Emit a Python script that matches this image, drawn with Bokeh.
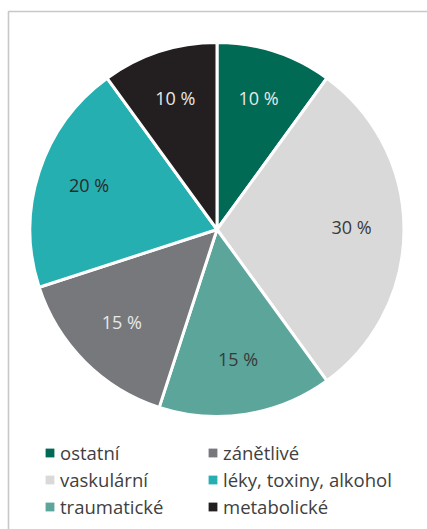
import math
from bokeh.plotting import figure
from bokeh.models import ColumnDataSource, Range1d, BoxAnnotation, Legend, LegendItem
from bokeh.core.properties import value
from bokeh.embed import file_html
from bokeh.resources import INLINE

categories = ["ostatní", "vaskulární", "traumatické", "zánětlivé", "léky, toxiny, alkohol", "metabolické"]
shares = [10, 30, 15, 15, 20, 10]
labels = ["10 %", "30 %", "15 %", "15 %", "20 %", "10 %"]
colors = ["#006A55", "#D9D9DA", "#5BA59A", "#77787B", "#25AFB0", "#231F20"]
label_colors = ["#E8E8E8", "#3A3A3A", "#3A3A3A", "#E8E8E8", "#2A2A2A", "#E8E8E8"]

W, H = 427, 529
cx, cy, R = 216.5, H - 229, 187

total = sum(shares)
starts, ends, lx, ly = [], [], [], []
cum = 0
for s in shares:
    a0 = math.pi / 2 - 2 * math.pi * cum / total
    cum += s
    a1 = math.pi / 2 - 2 * math.pi * cum / total
    starts.append(a0)
    ends.append(a1)
    mid = (a0 + a1) / 2
    lx.append(cx + 0.72 * R * math.cos(mid))
    ly.append(cy + 0.72 * R * math.sin(mid) + 3)

src = ColumnDataSource(dict(cat=categories, share=shares, start=starts, end=ends,
                            color=colors, lx=lx, ly=ly, lab=labels, lc=label_colors))

p = figure(width=W, height=H, output_backend="svg", toolbar_location=None,
           x_range=Range1d(0, W), y_range=Range1d(0, H), min_border=0)
p.axis.visible = False
p.grid.visible = False
p.outline_line_color = None
p.background_fill_color = "white"

frame = BoxAnnotation(left=8, right=W + 20, top=H - 11, bottom=-20,
                      fill_alpha=0, line_color="#4a4a4a", line_width=1.6)
p.add_layout(frame)

r = p.wedge(x=cx, y=cy, radius=R, start_angle="start", end_angle="end", direction="clock",
            fill_color="color", line_color="white", line_width=3, source=src)

# legend swatches (not drawn in the plot area)
sw = p.rect(x=float("nan"), y=float("nan"), width=1, height=1, fill_color="color",
            line_color=None, source=src)

p.text(x="lx", y="ly", text="lab", text_color="lc", text_align="center",
       text_baseline="middle", text_font=value("Open Sans"), text_font_size="18px", source=src)

items = [LegendItem(label=c, renderers=[sw], index=i) for i, c in enumerate(categories)]
legend = Legend(items=items, ncols=2, orientation="vertical", location=(44, 10),
                padding=0, margin=0, spacing=2, label_standoff=5,
                glyph_width=11, glyph_height=11, label_height=20, label_width=145,
                label_text_font="Open Sans", label_text_font_size="18.5px",
                label_text_color="#404040", border_line_color=None,
                background_fill_alpha=0)
p.add_layout(legend)

open("out.html", "w").write(file_html(p, INLINE))
